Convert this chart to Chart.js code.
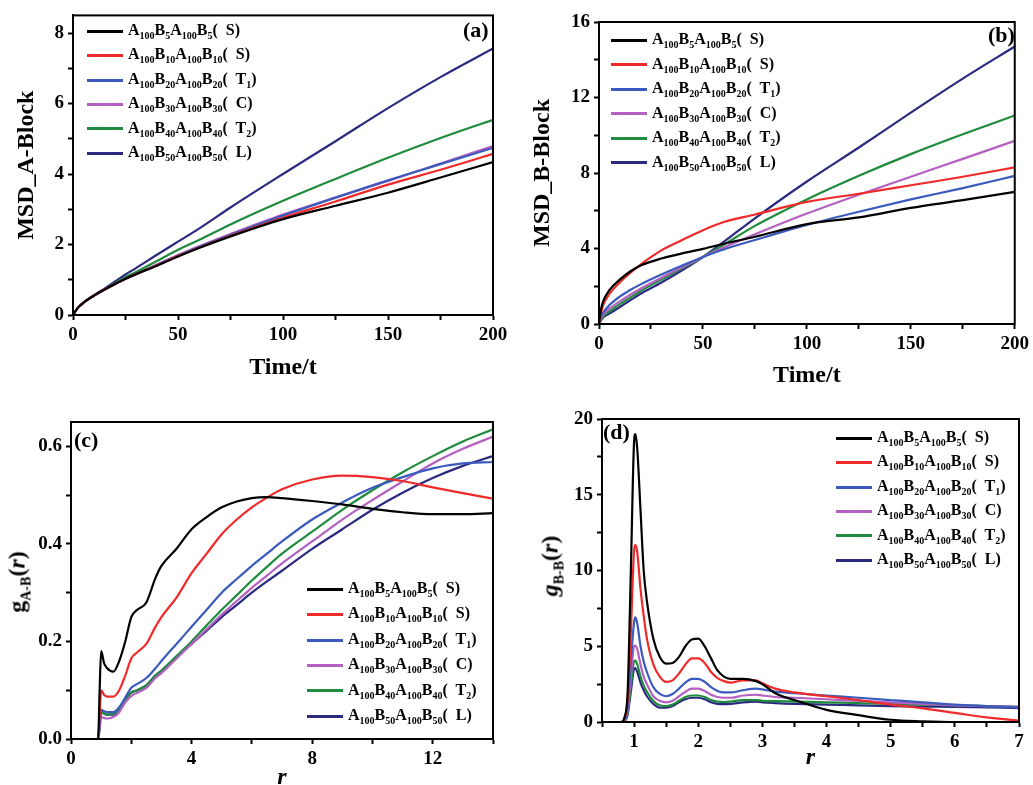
<!DOCTYPE html>
<html>
<head>
<meta charset="utf-8">
<script src="https://cdn.jsdelivr.net/npm/chart.js@4.4.0/dist/chart.umd.min.js"></script>
<style>
  body { margin: 0; width: 1033px; height: 785px; overflow: hidden; background: #fff; position: relative; font-family: 'Liberation Serif', 'Times New Roman', serif; color: #000; }
  canvas { position: absolute; }
  .leg { position: absolute; font-weight: bold; font-size: 16px; line-height: 20px; white-space: nowrap; }
  .leg .linha { display: inline-block; width: 36px; height: 3px; vertical-align: middle; margin-right: 5px; }
  sub { font-size: 10px; vertical-align: -4px; line-height: 0; }
  .rot { position: absolute; font-weight: bold; font-size: 22px; line-height: 24px; }
  .ytit { position: absolute; font-weight: bold; font-size: 24px; transform: translate(-50%, -50%) rotate(-90deg); white-space: nowrap; }
  .ytit sub { font-size: 14px; vertical-align: -6px; }
</style>
</head>
<body>
<canvas id="chart_a" width="520" height="390" style="left:0;top:0"></canvas>
<canvas id="chart_b" width="513" height="390" style="left:520px;top:0"></canvas>
<canvas id="chart_c" width="520" height="410" style="left:0;top:390px"></canvas>
<canvas id="chart_d" width="513" height="395" style="left:520px;top:390px"></canvas>

<div class="rot" style="left:463px;top:18px">(a)</div>
<div class="rot" style="left:988px;top:23px">(b)</div>
<div class="rot" style="left:74px;top:428px">(c)</div>
<div class="rot" style="left:603px;top:420px">(d)</div>

<div class="ytit" style="left:17px;top:582px">g<sub>A-B</sub>(<i>r</i>)</div>
<div class="ytit" style="left:550px;top:566px"><i>g</i><sub>B-B</sub>(<i>r</i>)</div>

<div id="legendas"></div>

<script>
// eixos x
const tempoA = [0, 2, 5, 10, 15, 20, 25, 30, 40, 50, 60, 75, 100, 125, 150, 175, 200];
const tempoB = [0, 1, 2, 5, 10, 15, 20, 30, 40, 50, 60, 75, 100, 125, 150, 175, 200];
const raioC = [0, 0.9, 0.95, 1.0, 1.1, 1.2, 1.4, 1.6, 1.8, 2.0, 2.2, 2.5, 2.8, 3.0, 3.5, 4, 4.5, 5, 5.5, 6, 6.5, 7, 8, 9, 10, 11, 12, 13, 14];
const raioD = [0.5, 0.8, 0.85, 0.9, 0.95, 1.0, 1.02, 1.05, 1.1, 1.15, 1.2, 1.3, 1.4, 1.5, 1.6, 1.7, 1.8, 1.9, 2.0, 2.1, 2.2, 2.3, 2.4, 2.5, 2.7, 2.9, 3.0, 3.2, 3.5, 4.0, 4.5, 5.0, 5.5, 6.0, 6.5, 7.0];

// legendas
const blocos = [5, 10, 20, 30, 40, 50];
const fases = ['S', 'S', 'T<sub>1</sub>', 'C', 'T<sub>2</sub>', 'L'];
const cores = ['#000000', '#f02a2a', '#3a5bbd', '#b460c0', '#1f8b3d', '#2b2a80'];

// (a) MSD bloco A
const msdA_5 = [0, 0.18, 0.35, 0.55, 0.72, 0.88, 1.03, 1.16, 1.40, 1.66, 1.90, 2.23, 2.72, 3.10, 3.47, 3.90, 4.34];
const msdA_10 = [0, 0.18, 0.35, 0.55, 0.72, 0.88, 1.03, 1.16, 1.41, 1.67, 1.91, 2.25, 2.76, 3.22, 3.70, 4.12, 4.57];
const msdA_20 = [0, 0.18, 0.35, 0.55, 0.72, 0.88, 1.03, 1.16, 1.42, 1.68, 1.93, 2.27, 2.82, 3.33, 3.82, 4.28, 4.74];
const msdA_30 = [0, 0.18, 0.35, 0.55, 0.72, 0.88, 1.03, 1.17, 1.43, 1.70, 1.95, 2.30, 2.85, 3.33, 3.80, 4.30, 4.79];
const msdA_40 = [0, 0.18, 0.35, 0.55, 0.72, 0.90, 1.07, 1.22, 1.53, 1.85, 2.13, 2.57, 3.24, 3.86, 4.46, 5.02, 5.54];
const msdA_50 = [0, 0.18, 0.35, 0.56, 0.75, 0.95, 1.15, 1.33, 1.71, 2.08, 2.45, 3.05, 4.00, 4.93, 5.87, 6.75, 7.56];

// (b) MSD bloco B
const msdB_5 = [0, 0.8, 1.2, 1.8, 2.35, 2.78, 3.1, 3.47, 3.74, 3.98, 4.25, 4.62, 5.29, 5.65, 6.15, 6.56, 7.0];
const msdB_10 = [0, 0.6, 1.0, 1.6, 2.2, 2.7, 3.15, 3.9, 4.45, 4.97, 5.4, 5.8, 6.47, 6.9, 7.35, 7.8, 8.3];
const msdB_20 = [0, 0.4, 0.6, 1.0, 1.45, 1.8, 2.1, 2.62, 3.1, 3.55, 3.95, 4.45, 5.25, 5.95, 6.6, 7.2, 7.85];
const msdB_30 = [0, 0.3, 0.5, 0.8, 1.2, 1.55, 1.87, 2.45, 3.0, 3.55, 4.05, 4.75, 5.85, 6.85, 7.8, 8.75, 9.7];
const msdB_40 = [0, 0.25, 0.4, 0.65, 1.05, 1.4, 1.75, 2.35, 2.95, 3.55, 4.2, 5.2, 6.6, 7.85, 9.0, 10.05, 11.05];
const msdB_50 = [0, 0.2, 0.35, 0.55, 0.9, 1.25, 1.6, 2.2, 2.85, 3.55, 4.35, 5.6, 7.55, 9.35, 11.2, 13.0, 14.7];

// (c) g A-B
const gAB_5 = [0, 0, 0.1, 0.18, 0.155, 0.145, 0.138, 0.16, 0.2, 0.25, 0.265, 0.28, 0.33, 0.355, 0.39, 0.43, 0.455, 0.475, 0.487, 0.494, 0.496, 0.494, 0.488, 0.481, 0.472, 0.465, 0.461, 0.461, 0.463];
const gAB_10 = [0, 0, 0.05, 0.1, 0.09, 0.087, 0.087, 0.1, 0.13, 0.165, 0.178, 0.195, 0.23, 0.25, 0.29, 0.34, 0.38, 0.42, 0.45, 0.475, 0.495, 0.512, 0.532, 0.54, 0.537, 0.529, 0.516, 0.504, 0.493];
const gAB_20 = [0, 0, 0.03, 0.06, 0.057, 0.055, 0.055, 0.065, 0.085, 0.105, 0.113, 0.125, 0.145, 0.16, 0.195, 0.23, 0.265, 0.3, 0.328, 0.355, 0.38, 0.405, 0.45, 0.485, 0.515, 0.537, 0.555, 0.565, 0.568];
const gAB_30 = [0, 0, 0.02, 0.045, 0.043, 0.042, 0.045, 0.055, 0.075, 0.088, 0.095, 0.105, 0.125, 0.135, 0.165, 0.195, 0.225, 0.255, 0.283, 0.31, 0.335, 0.36, 0.405, 0.45, 0.49, 0.528, 0.565, 0.595, 0.62];
const gAB_40 = [0, 0, 0.025, 0.055, 0.052, 0.05, 0.052, 0.06, 0.08, 0.095, 0.1, 0.11, 0.13, 0.14, 0.17, 0.2, 0.233, 0.265, 0.295, 0.325, 0.353, 0.38, 0.425, 0.47, 0.51, 0.547, 0.58, 0.61, 0.635];
const gAB_50 = [0, 0, 0.03, 0.06, 0.052, 0.05, 0.05, 0.06, 0.08, 0.095, 0.1, 0.11, 0.13, 0.14, 0.168, 0.195, 0.222, 0.25, 0.275, 0.3, 0.323, 0.345, 0.39, 0.43, 0.47, 0.505, 0.535, 0.56, 0.58];

// (d) g B-B
const gBB_5 = [0, 0, 0.3, 2, 10, 18.5, 19, 18, 14, 10, 8, 5.5, 4.3, 3.85, 3.9, 4.3, 5.0, 5.45, 5.5, 5.0, 4.2, 3.4, 3.0, 2.85, 2.85, 2.7, 2.5, 1.9, 1.45, 0.8, 0.45, 0.15, 0.05, 0, 0, 0];
const gBB_10 = [0, 0, 0.2, 1.5, 6, 11.3, 11.7, 11.2, 8.8, 7, 5.5, 3.8, 3.0, 2.65, 2.75, 3.2, 3.8, 4.2, 4.2, 3.9, 3.3, 2.9, 2.7, 2.6, 2.75, 2.75, 2.55, 2.2, 1.95, 1.7, 1.45, 1.15, 0.9, 0.6, 0.3, 0.1];
const gBB_20 = [0, 0, 0.1, 1.0, 4, 6.6, 6.9, 6.5, 5.0, 4.0, 3.3, 2.3, 1.85, 1.7, 1.85, 2.2, 2.6, 2.85, 2.85, 2.65, 2.3, 2.05, 1.95, 1.95, 2.1, 2.2, 2.15, 2.0, 1.9, 1.75, 1.6, 1.45, 1.3, 1.15, 1.05, 0.95];
const gBB_30 = [0, 0, 0.08, 0.8, 3, 5.0, 5.05, 4.8, 3.8, 3.0, 2.5, 1.7, 1.4, 1.3, 1.4, 1.7, 2.0, 2.2, 2.2, 2.05, 1.8, 1.65, 1.6, 1.6, 1.75, 1.8, 1.75, 1.65, 1.6, 1.5, 1.4, 1.3, 1.2, 1.1, 1.05, 1.0];
const gBB_40 = [0, 0, 0.06, 0.6, 2.4, 4.0, 4.05, 3.8, 3.0, 2.4, 2.0, 1.4, 1.1, 1.05, 1.15, 1.4, 1.65, 1.75, 1.75, 1.65, 1.45, 1.35, 1.32, 1.35, 1.45, 1.45, 1.4, 1.38, 1.35, 1.3, 1.25, 1.2, 1.15, 1.1, 1.05, 1.0];
const gBB_50 = [0, 0, 0.05, 0.5, 2.0, 3.5, 3.55, 3.3, 2.6, 2.1, 1.7, 1.2, 0.95, 0.95, 1.05, 1.3, 1.5, 1.6, 1.6, 1.5, 1.3, 1.2, 1.18, 1.2, 1.3, 1.35, 1.3, 1.25, 1.2, 1.15, 1.1, 1.05, 1.02, 1.0, 0.96, 0.92];

const fonte = 'Liberation Serif';

// moldura preta em volta da area do grafico
const moldura = {
  id: 'moldura',
  afterDraw(chart) {
    const { ctx, chartArea: a } = chart;
    ctx.save();
    ctx.strokeStyle = '#000';
    ctx.lineWidth = 2;
    ctx.strokeRect(a.left, a.top, a.right - a.left, a.bottom - a.top);
    ctx.restore();
  }
};

function eixo(c) {
  return {
    type: 'linear',
    min: c.min,
    max: c.max,
    title: c.title ? {
      display: true,
      text: c.title,
      color: '#000',
      font: { family: fonte, size: 24, weight: 'bold', style: c.italic ? 'italic' : 'normal' },
      padding: c.titlePad
    } : { display: false },
    ticks: {
      stepSize: c.step,
      autoSkip: false,
      includeBounds: false,
      maxRotation: 0,
      color: '#000',
      padding: 4,
      font: { family: fonte, size: 19, weight: 'bold' },
      callback: c.label
    },
    grid: { drawOnChartArea: false, tickLength: 5, tickWidth: 2, tickColor: '#000' },
    border: { color: '#000', width: 2 },
    afterFit: c.fit
  };
}

function painel(id, xs, series, o) {
  return new Chart(document.getElementById(id), {
    type: 'line',
    data: {
      datasets: series.map((ys, i) => ({
        data: xs.map((x, j) => ({ x: x, y: ys[j] })),
        borderColor: cores[i],
        borderWidth: 2.2,
        pointRadius: 0,
        fill: false,
        cubicInterpolationMode: 'monotone'
      }))
    },
    options: {
      responsive: false,
      animation: false,
      events: [],
      layout: { padding: o.pad },
      plugins: { legend: { display: false }, tooltip: { enabled: false } },
      scales: { x: eixo(o.x), y: eixo(o.y) }
    },
    plugins: [moldura]
  });
}

painel('chart_a', tempoA, [msdA_5, msdA_10, msdA_20, msdA_30, msdA_40, msdA_50], {
  pad: { left: 0, top: 12, right: 27, bottom: 0 },
  x: { min: 0, max: 200, step: 25, label: v => v % 50 === 0 ? v : '', title: 'Time/t', titlePad: { top: 0, bottom: 8 }, fit: s => { s.height = 75; } },
  y: { min: 0, max: 8.5, step: 1, label: v => v % 2 === 0 ? v : '', title: 'MSD_A-Block', titlePad: { top: 12, bottom: 0 }, fit: s => { s.width = 73; } }
});

painel('chart_b', tempoB, [msdB_5, msdB_10, msdB_20, msdB_30, msdB_40, msdB_50], {
  pad: { left: 0, top: 22, right: 15, bottom: 0 },
  x: { min: 0, max: 200, step: 25, label: v => v % 50 === 0 ? v : '', title: 'Time/t', titlePad: { top: 0, bottom: 0 }, fit: s => { s.height = 66; } },
  y: { min: 0, max: 16, step: 2, label: v => v % 4 === 0 ? v : '', title: 'MSD_B-Block', titlePad: { top: 8, bottom: 0 }, fit: s => { s.width = 79; } }
});

painel('chart_c', raioC, [gAB_5, gAB_10, gAB_20, gAB_30, gAB_40, gAB_50], {
  pad: { left: 0, top: 32, right: 27, bottom: 0 },
  x: { min: 0, max: 14, step: 2, label: v => v % 4 === 0 ? v : '', title: 'r', italic: true, titlePad: { top: 0, bottom: 8 }, fit: s => { s.height = 61; } },
  y: { min: 0, max: 0.65, step: 0.1, label: v => Math.round(v * 10) % 2 === 0 ? v.toFixed(1) : '', fit: s => { s.width = 71; } }
});

painel('chart_d', raioD, [gBB_5, gBB_10, gBB_20, gBB_30, gBB_40, gBB_50], {
  pad: { left: 0, top: 29, right: 14, bottom: 0 },
  x: { min: 0.5, max: 7, step: 0.5, label: v => Number.isInteger(v) ? v : '', title: 'r', italic: true, titlePad: { top: 0, bottom: 13 }, fit: s => { s.height = 63; } },
  y: { min: 0, max: 20, step: 2.5, label: v => v % 5 === 0 ? v : '', fit: s => { s.width = 82; } }
});

// legendas em html por causa dos subscritos
const posLegenda = [
  { left: 87, top: 30, passo: 24.4 },
  { left: 611, top: 39, passo: 24.5 },
  { left: 307, top: 588, passo: 25.4 },
  { left: 836, top: 437, passo: 24.4 }
];
let html = '';
posLegenda.forEach(p => {
  blocos.forEach((b, i) => {
    const y = p.top + i * p.passo - 10;
    html += `<div class="leg" style="left:${p.left}px;top:${y}px"><span class="linha" style="background:${cores[i]}"></span>` +
      `A<sub>100</sub>B<sub>${b}</sub>A<sub>100</sub>B<sub>${b}</sub>(&nbsp; ${fases[i]})</div>`;
  });
});
document.getElementById('legendas').innerHTML = html;
</script>
</body>
</html>
